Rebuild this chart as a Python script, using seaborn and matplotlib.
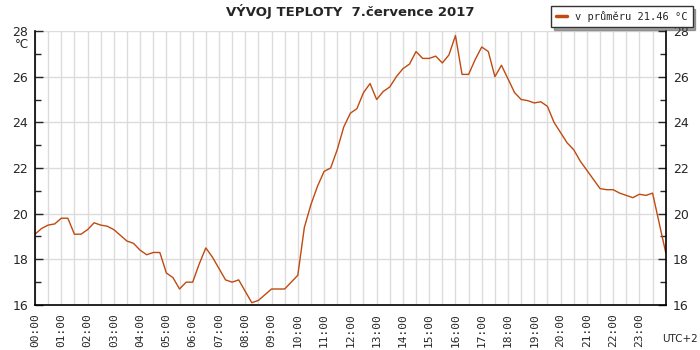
import numpy as np
import pandas as pd
import matplotlib
matplotlib.use("Agg")
import matplotlib.pyplot as plt
import seaborn as sns

# temperature readings, every 15 minutes from 00:00 to 24:00
temps = [19.1, 19.35, 19.5, 19.55, 19.8, 19.8, 19.1, 19.1, 19.3, 19.6,
         19.5, 19.45, 19.3, 19.05, 18.8, 18.7, 18.4, 18.2, 18.3, 18.3,
         17.4, 17.2, 16.7, 17.0, 17.0, 17.8, 18.5, 18.1, 17.6, 17.1,
         17.0, 17.1, 16.6, 16.1, 16.2, 16.45, 16.7, 16.7, 16.7, 17.0,
         17.3, 19.4, 20.4, 21.2, 21.85, 22.0, 22.8, 23.8, 24.4, 24.6,
         25.3, 25.7, 25.0, 25.35, 25.55, 26.0, 26.35, 26.55, 27.1, 26.8,
         26.8, 26.9, 26.6, 26.95, 27.8, 26.1, 26.1, 26.75, 27.3, 27.1,
         26.0, 26.5, 25.9, 25.3, 25.0, 24.95, 24.85, 24.9, 24.7, 24.0,
         23.55, 23.1, 22.8, 22.3, 21.9, 21.5, 21.1, 21.05, 21.05, 20.9,
         20.8, 20.7, 20.85, 20.8, 20.9, 19.6, 18.3]
hours = np.arange(len(temps)) * 0.25
hour_labels = [f"{h:02d}:00" for h in range(24)]
y_ticks = [16, 18, 20, 22, 24, 26, 28]
title = "VÝVOJ TEPLOTY  7.července 2017"
legend_label = "v průměru 21.46 °C"

df = pd.DataFrame({"hour": hours, "temp": temps})

sns.set_style("white")
plt.rcParams["font.family"] = ["DejaVu Sans"]

fig = plt.figure(figsize=(7, 3.5), dpi=100)
ax = fig.add_axes([0.05, 0.1286, 0.901, 0.7828])

# grid: half-hour verticals, every 2 degrees horizontals
for h in np.arange(0, 24.01, 0.5):
    ax.axvline(h, color="#dcdcdc", lw=1.0, zorder=0)
for t in y_ticks:
    ax.axhline(t, color="#dcdcdc", lw=1.0, zorder=0)

sns.lineplot(data=df, x="hour", y="temp", color="#c04a10", lw=1.0, ax=ax,
             label=legend_label, legend=False)

ax.set_xlim(0, 24)
ax.set_ylim(16, 28)
ax.set_xlabel("")
ax.set_ylabel("")

ax.set_xticks(np.arange(24))
ax.set_xticklabels(hour_labels, rotation=90, family="DejaVu Sans Mono", fontsize=8)
ax.set_xticks(np.arange(0, 24.01, 0.5), minor=True)
ax.tick_params(axis="x", which="both", direction="in", length=6, width=1, pad=6)

ax.set_yticks(y_ticks)
ax.set_yticks(np.arange(16, 29, 1), minor=True)
ax.tick_params(axis="y", which="major", direction="in", length=6, width=1,
               labelsize=9, left=True, right=True, labelleft=True, labelright=True, pad=5)
ax.tick_params(axis="y", which="minor", direction="in", length=4, width=1,
               left=True, right=True)

for s in ["left", "bottom", "right"]:
    ax.spines[s].set_color("black")
    ax.spines[s].set_linewidth(1.2)
ax.spines["top"].set_visible(False)

fig.text(0.5, 0.966, title, ha="center", va="center", fontsize=9.5, fontweight="bold")
fig.text(0.021, 0.874, "°C", ha="left", va="center", fontsize=8.5)
fig.text(0.997, 0.03, "UTC+2", ha="right", va="center", fontsize=7.5)

leg = fig.legend(loc="upper right", bbox_to_anchor=(0.997, 0.998), frameon=True,
                 fancybox=False, shadow=True, handlelength=1.0,
                 prop={"family": "DejaVu Sans Mono", "size": 7.5}, borderpad=0.5)
leg.get_frame().set_edgecolor("#333333")
leg.get_frame().set_linewidth(1.0)
for line in leg.get_lines():
    line.set_linewidth(2.5)

fig.savefig("out.png", dpi=100)
